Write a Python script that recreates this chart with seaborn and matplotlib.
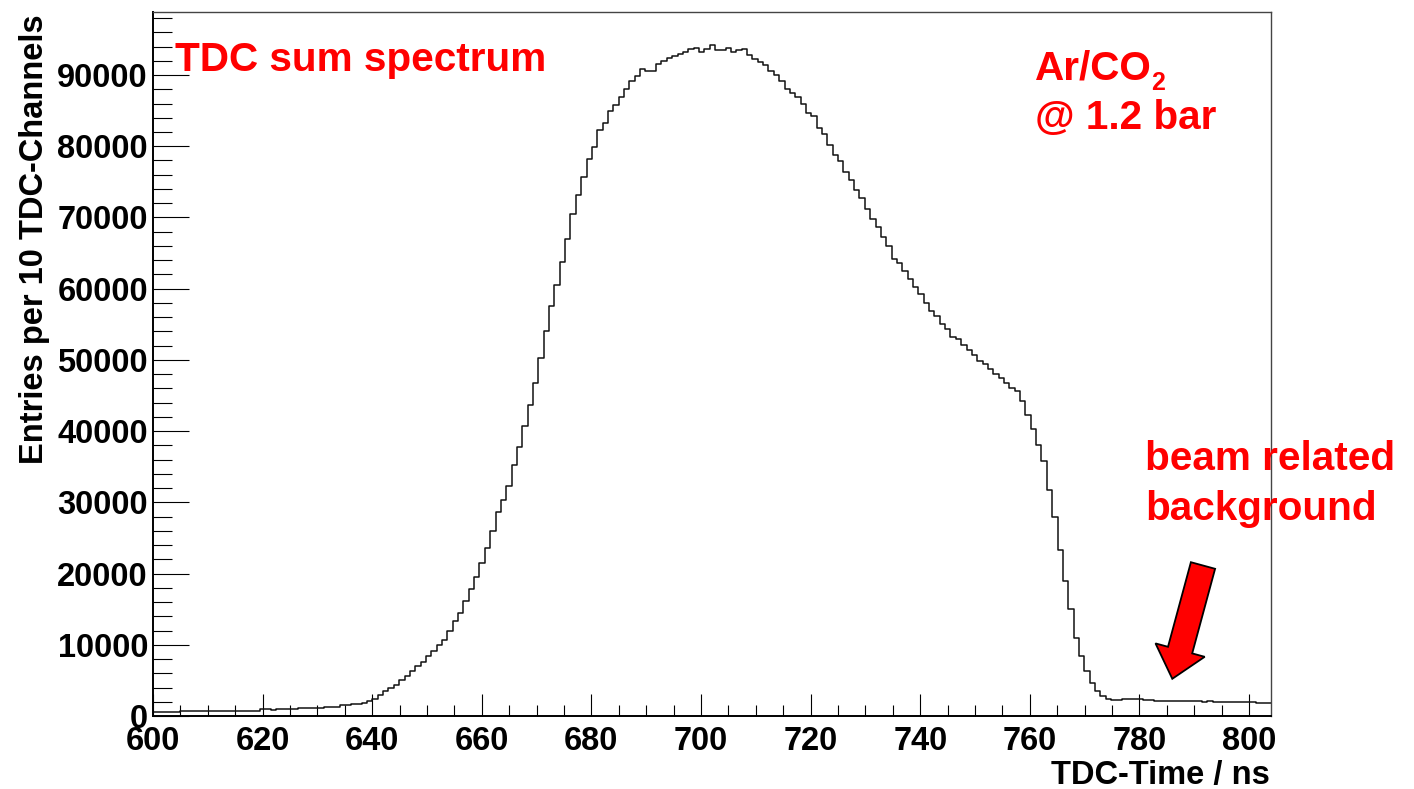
import numpy as np
import pandas as pd
import matplotlib
matplotlib.use("Agg")
import matplotlib.pyplot as plt
import seaborn as sns
from matplotlib.ticker import MultipleLocator
from matplotlib.patches import Polygon

# ---------------- data ----------------
BIN_START = 600.0
BIN_WIDTH = 0.9766  # ns per 10 TDC channels

counts = [
    520, 520, 520, 520, 520,
    700, 700, 700, 700, 700, 700, 700, 700, 700, 700, 700, 700, 700, 700, 700,
    940, 940, 800, 940, 940, 940, 940,
    1080, 1080, 1080, 1080, 1080,
    1260, 1260, 1260, 1500, 1500, 1730, 1730, 1870, 2100,
    2400, 3000, 3500, 3950, 4400, 5000, 5650, 6300, 7000, 7650, 8400, 9100,
    9900, 10700, 12000, 13300, 14500, 16200, 17800, 19500, 21500, 23600,
    26000, 28600,
    30300, 32300, 35200, 37800, 40700, 43700, 46700, 50200, 54000, 57600,
    60500, 63700, 67000, 70500, 73200, 75700, 78200, 79900, 82300, 83200,
    85000, 85800, 86900, 88000, 89100, 89800, 90800, 90600, 90600, 91500,
    92000, 92400, 92700, 93000, 93300, 93600, 93750, 93300, 93600, 94200,
    93500, 93500, 93850, 93300, 93500, 93650, 92800, 92300, 91800, 91400,
    90500, 90000, 89100, 88000, 87500, 86900, 86000, 84600, 84300, 82500,
    81700, 80200, 78800, 77900, 76400, 75300, 73800, 72700, 71200, 69800,
    68700, 67300, 66000, 64200, 63600, 62500, 61300, 60300, 59200, 58000,
    56900, 56100, 55100, 54400, 53200, 53000, 52100, 51400, 50700, 49900,
    49400, 48700, 48000, 47400, 46700, 46100, 45600, 44200, 42200, 40300,
    38000, 35800,
    31800, 28000, 23300, 19000, 15000, 11000, 8400, 6300, 4700, 3500,
    2800, 2450, 2300, 2250, 2400,
    2400, 2400, 2350, 2250, 2250,
    2100, 2100, 2100, 2100, 2100, 2100, 2100, 2100, 2100,
    2000, 2100,
    1970, 1970, 1970, 1970, 1970, 1970, 1970, 1930,
    1780, 1780, 1780,
]

x_ticks = [600, 620, 640, 660, 680, 700, 720, 740, 760, 780, 800]
y_ticks = [0, 10000, 20000, 30000, 40000, 50000, 60000, 70000, 80000, 90000]
x_limits = [600, 804]
y_limits = [0, 98850]

x_label = "TDC-Time / ns"
y_label = "Entries per 10 TDC-Channels"
title_text = "TDC sum spectrum"
gas_text = "Ar/CO"
gas_sub = "2"
pressure_text = "@ 1.2 bar"
bg_lines = ["beam related", "background"]

# ---------------- style ----------------
sns.set_style("ticks")
plt.rcParams['font.family'] = ['Liberation Sans', 'DejaVu Sans']
plt.rcParams['font.weight'] = 'bold'
plt.rcParams['text.color'] = 'black'
plt.rcParams['axes.labelcolor'] = 'black'
plt.rcParams['xtick.color'] = 'black'
plt.rcParams['ytick.color'] = 'black'

W, H = 1414, 789
fig = plt.figure(figsize=(W / 100, H / 100), dpi=100)
fig.patch.set_facecolor("white")
ax = fig.add_axes([153 / W, 1 - 716 / H, (1271 - 153) / W, (716 - 12) / H])

n_bins = len(counts)
bin_end = BIN_START + BIN_WIDTH * n_bins
centers = BIN_START + BIN_WIDTH * (np.arange(n_bins) + 0.5)
df = pd.DataFrame({"t": centers, "n": np.asarray(counts, dtype=float)})
sns.histplot(data=df, x="t", weights="n", bins=n_bins,
             binrange=(BIN_START, bin_end), element="step",
             fill=False, color="#111111", linewidth=1.1, ax=ax)

ax.set_xlim(*x_limits)
ax.set_ylim(*y_limits)
ax.set_xticks(x_ticks)
ax.set_xticklabels([str(v) for v in x_ticks])
ax.set_yticks(y_ticks)
ax.set_yticklabels([str(v) for v in y_ticks])
ax.xaxis.set_minor_locator(MultipleLocator(5))
ax.yaxis.set_minor_locator(MultipleLocator(2000))
ax.tick_params(axis='both', which='both', direction='in', top=False, right=False,
               color='black', labelcolor='black')
ax.tick_params(axis='y', which='major', length=26, width=0.8, pad=3.6, labelsize=23.5)
ax.tick_params(axis='y', which='minor', length=13.5, width=0.8)
ax.tick_params(axis='x', which='major', length=16, width=0.8, pad=7, labelsize=23.5)
ax.tick_params(axis='x', which='minor', length=8, width=0.8)
for lab in ax.get_xticklabels() + ax.get_yticklabels():
    lab.set_fontweight('bold')
    lab.set_color('black')

for name, s in ax.spines.items():
    s.set_color('black' if name in ('left', 'bottom') else '#444444')
    s.set_linewidth(1.4 if name in ('left', 'bottom') else 1.0)

ax.set_xlabel(x_label, fontsize=23.5, fontweight='bold', loc='right', color='black')
ax.xaxis.set_label_coords(0.999, -0.062)
ax.set_ylabel(y_label, fontsize=23.5, fontweight='bold', loc='top', color='black')
ax.yaxis.set_label_coords(-0.092, 0.996)


def fx(px):
    return px / W


def fy(py):
    return 1 - py / H


red = "#ff0000"
fs = 29.2
fig.text(fx(175), fy(70.7), title_text, color=red, fontsize=fs,
         fontweight='bold', ha='left', va='baseline')
t_gas = fig.text(fx(1035), fy(80), gas_text, color=red, fontsize=fs,
                 fontweight='bold', ha='left', va='baseline')
fig.text(fx(1035), fy(129.3), pressure_text, color=red, fontsize=fs,
         fontweight='bold', ha='left', va='baseline')
fig.text(fx(1145), fy(470), bg_lines[0], color=red, fontsize=fs,
         fontweight='bold', ha='left', va='baseline')
fig.text(fx(1145), fy(520), bg_lines[1], color=red, fontsize=fs,
         fontweight='bold', ha='left', va='baseline')

fig.canvas.draw()
bb = t_gas.get_window_extent()
fig.text((bb.x1 - 1) / W, fy(90), gas_sub, color=red, fontsize=18,
         fontweight='bold', ha='left', va='baseline')

# red arrow pointing at the background (outline in picture pixels)
arrow_px = [(1190.9, 562.2), (1215.1, 568.8), (1192.2, 653.4), (1204.7, 656.8),
            (1172.3, 678.8), (1155.5, 643.4), (1168.0, 646.8)]
arrow = Polygon([(fx(x), fy(y)) for x, y in arrow_px], closed=True,
                transform=fig.transFigure, facecolor=red, edgecolor='black',
                linewidth=1.3, joinstyle='miter')
fig.add_artist(arrow)

fig.savefig("out.png", dpi=100)
